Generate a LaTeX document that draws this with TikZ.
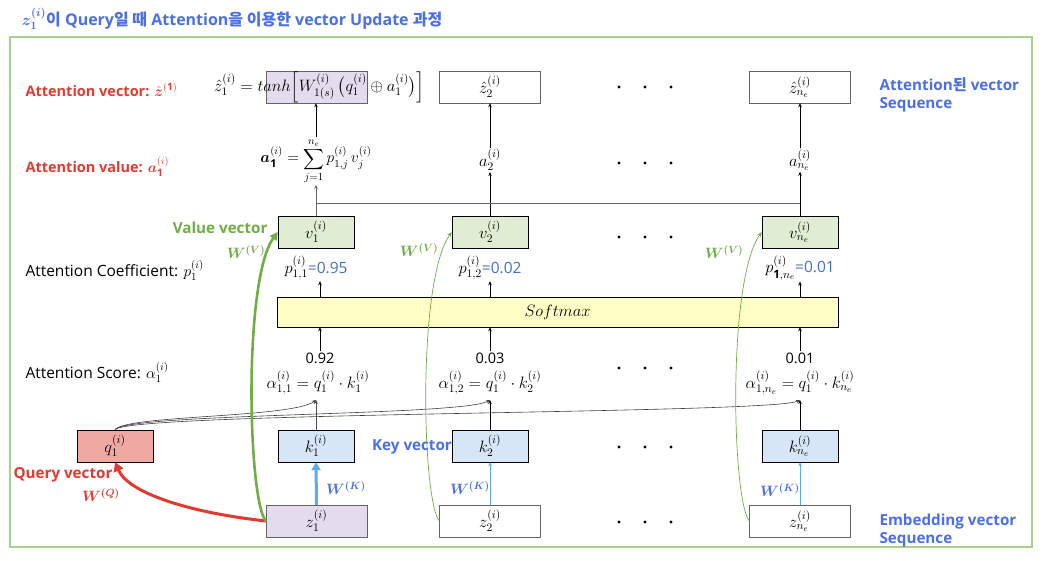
\RequirePackage{fix-cm}
\documentclass[tikz,border=0pt]{standalone}
\usepackage{amsmath}
\usepackage{fontspec}
\setmainfont{Open Sans}
\newfontfamily\kr{Noto Sans CJK KR}
\usetikzlibrary{arrows.meta}
\definecolor{tblue}{RGB}{74,111,230}
\definecolor{tred}{RGB}{226,58,48}
\definecolor{tgreen}{RGB}{112,173,71}
\definecolor{framegreen}{RGB}{169,209,142}
\definecolor{vfill}{RGB}{224,237,210}
\definecolor{kfill}{RGB}{214,230,246}
\definecolor{qfill}{RGB}{240,168,162}
\definecolor{zfill}{RGB}{228,220,238}
\definecolor{sfill}{RGB}{255,255,197}
\definecolor{wkblue}{RGB}{96,170,230}
\definecolor{pblue}{RGB}{68,114,196}
\definecolor{boxgray}{RGB}{100,100,100}
\newcommand{\mysizeM}{\fontsize{16.5}{19}\selectfont}
\begin{document}
\begin{tikzpicture}[x=1pt,y=-1pt,font=\fontsize{14.5}{17}\selectfont,
  mth/.style={font=\mysizeM},
  box/.style={draw, minimum height=32pt, inner sep=0pt, mth},
  nbox/.style={box, minimum width=76pt},
  wbox/.style={box, minimum width=101pt, draw=boxgray},
  arr/.style={-{Stealth[length=4pt,width=3.5pt]}, line width=0.6pt},
  lab/.style={anchor=west, font=\fontsize{15.5}{18}\selectfont},
  bfl/.style={font=\fontsize{15.2}{18}\selectfont\bfseries},
  blab/.style={anchor=west, font=\fontsize{14.5}{17}\selectfont\bfseries},
  rlab/.style={anchor=west, align=left, bfl, text=tblue},
  wlab/.style={font=\fontsize{15}{17}\selectfont}]
\useasboundingbox (0,0) rectangle (1043,560);
% frame
\draw[framegreen, line width=1.5pt] (10,37) rectangle (1032,547);
% title
\node[anchor=west, text=tblue, font=\fontsize{16}{19}\selectfont\bfseries] (title) at (18,19)
  {$\boldsymbol{z_1^{(i)}}${\kr 이} Query{\kr 일 때} Attention{\kr 을 이용한} vector Update {\kr 과정}};
% top row
\node[wbox, fill=zfill] (zh1) at (316.5,87) {};
\node[mth] (zhf) at (319.5,87) {$\hat z_1^{(i)} = tanh\Big[W_{1(s)}^{(i)}\,\big(q_1^{(i)}\oplus a_1^{(i)}\big)\Big]$};
\node[wbox] (zh2) at (490,87) {$\hat z_2^{(i)}$};
\node[wbox] (zhn) at (800,87) {$\hat z_{n_e}^{(i)}$};
% a row
\node[inner sep=1pt, font=\fontsize{15.5}{18}\selectfont] (a1) at (316,161) {$\displaystyle \boldsymbol{a}_{\mathbf 1}^{(i)} = \sum_{j=1}^{n_e} p_{1,j}^{(i)}\, v_j^{(i)}$};
\node[inner sep=1pt, mth] (a2) at (490,160) {$a_2^{(i)}$};
\node[inner sep=1pt, mth] (an) at (800,160) {$a_{n_e}^{(i)}$};
% v row
\node[nbox, fill=vfill] (v1) at (316,232) {$v_1^{(i)}$};
\node[nbox, fill=vfill] (v2) at (490,232) {$v_2^{(i)}$};
\node[nbox, fill=vfill] (vn) at (800,232) {$v_{n_e}^{(i)}$};
% p row
\node[inner sep=1pt, font=\fontsize{15.5}{18}\selectfont] (p1) at (316,268) {{\mysizeM$p_{1,1}^{(i)}$}\textcolor{pblue}{=0.95}};
\node[inner sep=1pt, font=\fontsize{15.5}{18}\selectfont] (p2) at (490,268) {{\mysizeM$p_{1,2}^{(i)}$}\textcolor{pblue}{=0.02}};
\node[inner sep=1pt, font=\fontsize{15.5}{18}\selectfont] (pn) at (800,268) {{\mysizeM$p_{\mathbf 1,n_e}^{(i)}$}\textcolor{pblue}{=0.01}};
% softmax
\node[box, minimum width=561pt, minimum height=30pt, fill=sfill] (sm) at (557.5,312) {$Softmax$};
% scores
\node[inner sep=1pt] (s1) at (320,358) {0.92};
\node[inner sep=1pt] (s2) at (490,358) {0.03};
\node[inner sep=1pt] (sn) at (800,358) {0.01};
\node[inner sep=1pt, mth] (al1) at (318,383) {$\alpha_{1,1}^{(i)} = q_1^{(i)}\cdot k_1^{(i)}$};
\node[inner sep=1pt, mth] (al2) at (490,383) {$\alpha_{1,2}^{(i)} = q_1^{(i)}\cdot k_2^{(i)}$};
\node[inner sep=1pt, mth] (aln) at (800,383) {$\alpha_{1,n_e}^{(i)} = q_1^{(i)}\cdot k_{n_e}^{(i)}$};
\coordinate (t1) at (316,400);
\coordinate (t2) at (490,400);
\coordinate (tn) at (800,400);
% k row
\node[nbox, fill=kfill] (k1) at (316,446) {$k_1^{(i)}$};
\node[nbox, fill=kfill] (k2) at (490,446) {$k_2^{(i)}$};
\node[nbox, fill=kfill] (kn) at (800,446) {$k_{n_e}^{(i)}$};
\node[nbox, fill=qfill] (q1) at (115,446) {$q_1^{(i)}$};
% z row
\node[wbox, fill=zfill] (z1) at (316.5,521) {$z_1^{(i)}$};
\node[wbox] (z2) at (490,521) {$z_2^{(i)}$};
\node[wbox] (zn) at (800,521) {$z_{n_e}^{(i)}$};
% dots
\foreach \yy in {87,163,237,368,447,522}
  \foreach \xx in {619,645,671}
    \fill (\xx,\yy) circle (1.7pt);
% arrows top
\draw[arr] (a1.north) -- (zh1.south -| a1.north);
\draw[arr] (a2.north) -- (zh2.south);
\draw[arr] (an.north) -- (zhn.south);
\draw[arr, draw=black!60] (v1.north) -- (a1.south);
\draw[arr] (v2.north) -- (a2.south);
\draw[arr] (vn.north) -- (an.south);
\draw[black!60, line width=1pt] (316,203) -- (800,203);
% softmax arrows
\draw[arr] (sm.north -| s1) -- (p1.south -| s1);
\draw[arr] (sm.north -| s2) -- (p2.south -| s2);
\draw[arr] (sm.north -| sn) -- (pn.south -| sn);
\draw[arr] (s1.north) -- (sm.south -| s1);
\draw[arr] (s2.north) -- (sm.south -| s2);
\draw[arr] (sn.north) -- (sm.south -| sn);
% k to alpha
\draw[arr, draw=black!70] (k1.north) -- (t1);
\draw[arr] (k2.north) -- (t2);
\draw[arr] (kn.north) -- (tn);
% q curves
\draw[arr, draw=black!75] (q1.north) .. controls (125,415) and (292,418) .. (t1);
\draw[arr, draw=black!75] (q1.north) .. controls (125,413) and (462,416) .. (t2);
\draw[arr, draw=black!75] (q1.north) .. controls (125,412) and (772,414) .. (tn);
% W^K
\draw[-{Triangle[length=8pt,width=9pt]}, wkblue, line width=3pt] (z1.north) -- (k1.south);
\draw[-{Stealth[length=4pt,width=3.5pt]}, wkblue, line width=0.6pt] (z2.north) -- (k2.south);
\draw[-{Stealth[length=4pt,width=3.5pt]}, wkblue, line width=0.6pt] (zn.north) -- (kn.south);
% W^Q
\draw[-{Triangle[length=9pt,width=10pt]}, tred, line width=3pt] (z1.west) .. controls (185,512) and (128,492) .. (q1.south);
% W^V
\draw[-{Triangle[length=8pt,width=8pt]}, tgreen, line width=2.6pt] (z1.west) .. controls (248,500) and (243,280) .. (v1.west);
\draw[-{Stealth[length=5pt,width=4pt]}, tgreen, line width=0.7pt] (z2.west) .. controls (422,500) and (417,280) .. (v2.west);
\draw[-{Stealth[length=5pt,width=4pt]}, tgreen, line width=0.7pt] (zn.west) .. controls (732,500) and (727,280) .. (vn.west);
% labels
\node[anchor=east, text=tgreen, bfl] (vlab) at (271,228) {Value vector};
\node[wlab, text=tgreen] (wv1) at (246,252) {$\boldsymbol{W^{(V)}}$};
\node[wlab, text=tgreen] (wv2) at (419,250) {$\boldsymbol{W^{(V)}}$};
\node[wlab, text=tgreen] (wvn) at (724,252) {$\boldsymbol{W^{(V)}}$};
\node[text=tred, bfl] (qlab) at (63,475) {Query vector};
\node[wlab, text=tred] (wq) at (101,495) {$\boldsymbol{W^{(Q)}}$};
\node[text=tblue, bfl] (klab) at (412,447) {Key vector};
\node[wlab, text=tblue] (wk1) at (346,488) {$\boldsymbol{W^{(K)}}$};
\node[wlab, text=tblue] (wk2) at (470,488) {$\boldsymbol{W^{(K)}}$};
\node[wlab, text=tblue] (wkn) at (780,490) {$\boldsymbol{W^{(K)}}$};
% left labels
\node[blab, text=tred] (l1) at (22,90) {Attention vector: $\hat{\boldsymbol z}^{(\mathbf 1)}$};
\node[blab, text=tred] (l2) at (22,167) {Attention value: $\boldsymbol{a}_{\mathbf 1}^{(i)}$};
\node[lab] (l3) at (22,270) {Attention Coefficient: $p_1^{(i)}$};
\node[lab] (l4) at (22,372) {Attention Score: $\alpha_1^{(i)}$};
% right labels
\node[rlab] (r1) at (876,95) {Attention{\kr 된} vector\\Sequence};
\node[rlab] (r2) at (876,531) {Embedding vector\\Sequence};
\end{tikzpicture}
\end{document}
